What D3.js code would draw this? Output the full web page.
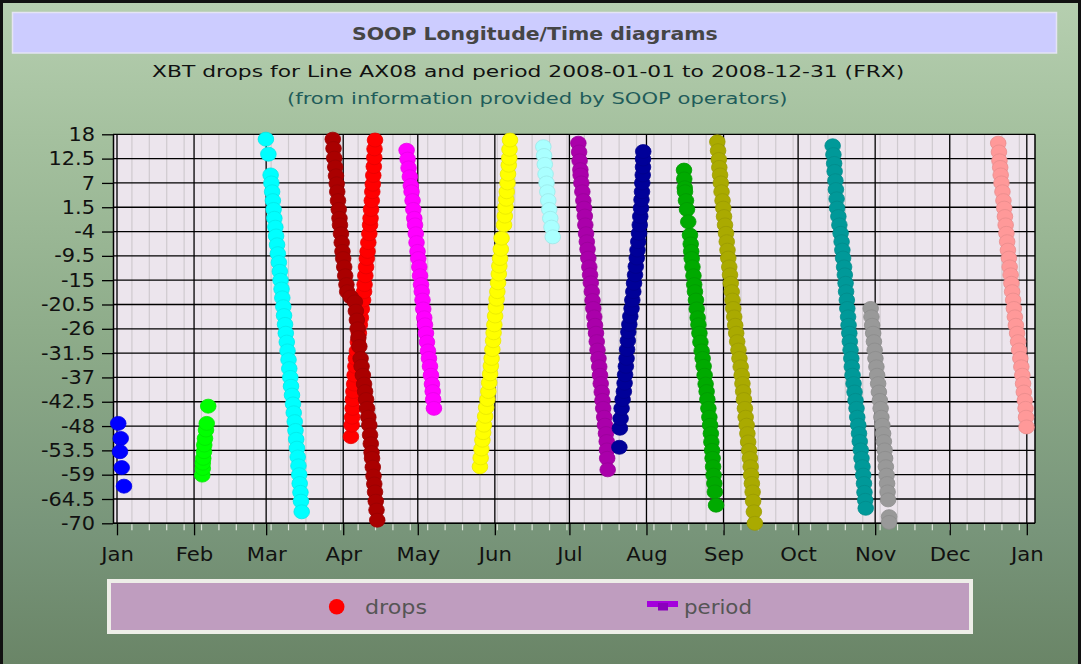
<!DOCTYPE html>
<html><head><meta charset="utf-8">
<script src="https://cdn.jsdelivr.net/npm/d3@7"></script>
<style>html,body{margin:0;padding:0;background:#fff;} svg{display:block;font-family:"DejaVu Sans",sans-serif;}</style>
</head><body><svg id="c" width="1081" height="664"></svg>
<script>
const titleText = "SOOP Longitude/Time diagrams";
const subtitleText = "XBT drops for Line AX08 and period 2008-01-01 to 2008-12-31 (FRX)";
const sourceText = "(from information provided by SOOP operators)";
const monthLabels = ["Jan","Feb","Mar","Apr","May","Jun","Jul","Aug","Sep","Oct","Nov","Dec","Jan"];
const lonTicks = [18,12.5,7,1.5,-4,-9.5,-15,-20.5,-26,-31.5,-37,-42.5,-48,-53.5,-59,-64.5,-70];
const lonTickLabels = ["18","12.5","7","1.5","-4","-9.5","-15","-20.5","-26","-31.5","-37","-42.5","-48","-53.5","-59","-64.5","-70"];
const legendLabels = ["drops","period"];

// each cruise: [days since 2008-01-01 00:00 UTC, longitude]
const cruiseBlue = [[0.5,-47.4],[1.5,-50.8],[1.2,-53.8],[1.9,-57.4],[2.8,-61.6]];
const cruiseGreen = [[34.3,-59.1],[34.5,-57.6],[34.5,-56.4],[34.7,-55.3],[35.0,-53.8],[35.1,-52.3],[35.4,-50.8],[35.8,-48.9],[36.1,-47.4],[36.7,-43.5]];
const cruiseCyan = [[59.9,16.9],[60.9,13.5],[61.8,8.8],[62.1,7],[62.4,5],[62.7,3],[63.0,1],[63.3,-1],[63.7,-3],[64.0,-5],[64.4,-7],[64.7,-9],[65.1,-11],[65.5,-13],[65.8,-15],[66.2,-17],[66.5,-19],[66.9,-21],[67.2,-23],[67.6,-25],[67.9,-27],[68.3,-29],[68.6,-31],[69.0,-33],[69.3,-35],[69.7,-37],[70.0,-39],[70.4,-41],[70.8,-43],[71.1,-45],[71.5,-47],[71.8,-49],[72.1,-51],[72.4,-53],[72.7,-55],[73.0,-57],[73.3,-59],[73.5,-61],[73.8,-63],[74.0,-65],[74.3,-67.4]];
const cruiseRed = [[94.1,-50.4],[94.4,-47.8],[94.6,-46],[94.8,-44],[94.9,-42],[95.1,-40.2],[95.4,-38.5],[95.6,-36.5],[95.9,-34.5],[96.1,-32.7],[96.5,-31],[96.9,-29],[97.3,-27],[97.7,-25.1],[98.1,-23.5],[98.5,-21.5],[99.0,-19.5],[99.4,-17.6],[99.6,-16],[99.9,-14],[100.2,-12],[100.5,-10.1],[100.8,-8.5],[101.1,-6.5],[101.5,-4.5],[101.8,-2.5],[102.0,-1.0],[102.2,1.0],[102.5,3.0],[102.7,5.0],[102.9,6.7],[103.1,8.7],[103.3,10.7],[103.5,12.7],[103.6,14.7],[103.8,16.7]];
const cruiseDarkRed = [[86.8,16.9],[87.1,14.8],[87.4,12.6],[87.8,10.6],[88.1,8.6],[88.4,6.8],[88.6,5.0],[88.9,3.0],[89.2,1.0],[89.5,-1.0],[89.7,-2.5],[90.1,-4.5],[90.4,-6.5],[90.7,-8.5],[91.0,-10.1],[91.4,-12],[91.8,-14],[92.3,-16],[92.6,-17.6],[94.0,-18.8],[95.7,-19.9],[96.1,-22],[96.5,-24],[96.8,-26],[97.1,-28],[97.5,-30],[98.0,-32.7],[98.4,-34.5],[98.9,-36.5],[99.4,-38.5],[99.8,-40.2],[100.2,-42],[100.6,-44],[101.1,-46],[101.5,-47.8],[101.8,-50],[102.1,-52],[102.4,-54],[102.6,-55.3],[102.9,-57.3],[103.2,-59.3],[103.5,-61.1],[103.8,-62.9],[104.1,-65],[104.4,-67],[104.7,-69.3]];
const cruiseMagenta = [[116.5,14.4],[116.9,12.4],[117.3,10.4],[117.8,8.4],[118.2,6.4],[118.5,5.0],[118.9,3],[119.2,1],[119.6,-1],[119.9,-2.5],[120.2,-4.5],[120.5,-6.5],[120.9,-8.5],[121.2,-10.1],[121.6,-12],[121.9,-14],[122.3,-16],[122.6,-17.6],[122.9,-19.5],[123.2,-21.5],[123.6,-23.5],[123.9,-25.1],[124.3,-27],[124.7,-29],[125.1,-31],[125.5,-32.7],[125.9,-34.5],[126.3,-36.5],[126.7,-38.5],[127.0,-40.2],[127.2,-42],[127.5,-44]];
const cruiseYellow = [[146.0,-57.2],[146.3,-55.2],[146.6,-53.2],[147.0,-51.2],[147.3,-49.5],[147.6,-47.8],[148.1,-45.8],[148.5,-43.8],[149.0,-42],[149.4,-40.2],[149.7,-38.2],[150.1,-36.2],[150.4,-34.4],[150.7,-32.7],[151.0,-30.7],[151.3,-28.7],[151.5,-26.9],[151.8,-25.1],[152.1,-23.1],[152.4,-21.1],[152.7,-19.3],[153.0,-17.6],[153.3,-15.6],[153.6,-13.6],[153.8,-11.8],[154.1,-10.1],[154.4,-8],[154.7,-5.5],[155.7,-2.5],[156.0,-0.5],[156.3,1.5],[156.6,3.3],[156.8,5.0],[157.1,7],[157.3,9],[157.6,11],[157.8,12.6],[157.9,14.6],[158.1,16.7]];
const cruiseLightCyan = [[171.5,15.2],[171.8,13.2],[172.1,11.2],[172.4,9],[172.8,7],[173.1,5],[173.5,3],[173.9,1],[174.3,-1],[174.8,-3],[175.3,-5.2]];
const cruisePurple = [[185.6,16],[185.9,14],[186.1,12],[186.4,10],[186.5,8.8],[186.8,7],[187.2,5],[187.6,3],[187.9,1.3],[188.2,-0.5],[188.4,-2.5],[188.7,-4.5],[189.0,-6.3],[189.3,-8],[189.6,-10],[190.0,-12],[190.3,-13.8],[190.6,-15.6],[191.0,-17.6],[191.3,-19.6],[191.6,-21.4],[192.0,-23.3],[192.3,-25.2],[192.7,-27],[193.0,-28.9],[193.3,-30.8],[193.7,-32.7],[194.0,-34.6],[194.3,-36.5],[194.6,-38.4],[195.0,-40.3],[195.3,-42.2],[195.6,-44],[196.0,-46],[196.3,-47.8],[196.7,-49.7],[197.0,-51.5],[197.1,-53.4],[197.2,-55.3],[197.4,-57.9]];
const cruiseNavy = [[202.1,-52.8],[202.3,-48.5],[202.6,-46.3],[203.0,-44.0],[203.4,-42],[203.9,-40.2],[204.2,-38.3],[204.4,-36.4],[204.7,-34.5],[205.0,-32.7],[205.2,-30.7],[205.5,-28.7],[205.7,-26.7],[206.1,-25],[206.5,-23.2],[207.0,-21.4],[207.3,-19.5],[207.7,-17.6],[208.0,-15.7],[208.4,-13.8],[208.7,-11.9],[209.1,-10],[209.4,-8.2],[209.7,-6.3],[210.0,-4.4],[210.3,-2.5],[210.5,-0.6],[210.8,1.3],[211.0,3.2],[211.2,5],[211.3,7],[211.5,8.8],[211.6,10.6],[211.6,12.4],[211.7,14.1]];
const cruiseGreen2 = [[228.1,9.9],[228.2,7.9],[228.4,5.9],[228.5,5],[228.9,3],[229.3,1],[229.8,-1.8],[230.5,-4.8],[230.8,-6.8],[231.0,-8.5],[231.2,-10.1],[231.5,-12],[231.9,-14],[232.2,-16],[232.5,-17.6],[232.9,-19.5],[233.2,-21.5],[233.6,-23.5],[233.9,-25.1],[234.3,-27],[234.7,-29],[235.2,-31],[235.6,-32.7],[236.0,-34.5],[236.4,-36.5],[236.8,-38.5],[237.2,-40.2],[237.5,-42],[237.9,-44],[238.3,-46],[238.6,-47.8],[238.9,-49.7],[239.1,-51.6],[239.4,-53.5],[239.6,-55.3],[239.8,-57.2],[240.0,-59.1],[240.3,-61],[240.5,-62.9],[241.0,-65.9]];
const cruiseOlive = [[241.5,16.3],[241.8,14.3],[242.1,12.3],[242.3,10.5],[242.6,8.8],[242.9,7],[243.2,5],[243.6,3],[243.9,1.3],[244.2,-0.6],[244.6,-2.5],[245.0,-4.4],[245.3,-6.3],[245.6,-8.2],[245.9,-10],[246.3,-12],[246.6,-13.8],[246.9,-15.7],[247.3,-17.6],[247.6,-19.5],[247.9,-21.4],[248.3,-23.3],[248.7,-25.2],[249.1,-27],[249.5,-28.9],[250.0,-30.8],[250.4,-32.7],[250.9,-34.6],[251.3,-36.5],[251.6,-38.4],[251.9,-40.2],[252.2,-42],[252.6,-44],[252.9,-46],[253.3,-47.8],[253.6,-49.7],[253.9,-51.6],[254.3,-53.5],[254.6,-55.3],[254.9,-57.2],[255.1,-59.1],[255.4,-61],[255.7,-62.9],[255.9,-65],[256.2,-67.4],[256.6,-70]];
const cruiseTeal = [[287.9,15.4],[288.2,13.4],[288.5,11.4],[288.7,9.6],[289.0,7.5],[289.2,5.5],[289.5,3.4],[289.7,1.3],[290.2,-0.6],[290.6,-2.5],[291.1,-4.4],[291.5,-6.3],[291.8,-8.2],[292.1,-10],[292.5,-12],[292.8,-13.8],[293.1,-15.7],[293.3,-17.6],[293.6,-19.5],[293.8,-21.4],[294.1,-23.3],[294.3,-25.2],[294.6,-27],[294.8,-28.9],[295.1,-30.8],[295.4,-32.7],[295.6,-34.6],[295.9,-36.5],[296.3,-38.4],[296.7,-40.3],[297.1,-42.2],[297.5,-44],[297.8,-46],[298.2,-47.8],[298.5,-49.7],[298.8,-51.5],[299.2,-53.4],[299.5,-55.3],[299.9,-57.2],[300.2,-59.1],[300.5,-61],[300.7,-63],[301.0,-64.8],[301.2,-66.6]];
const cruiseGray = [[303.2,-21.4],[303.5,-23.3],[303.8,-25.2],[304.2,-27],[304.5,-28.9],[304.8,-30.8],[305.1,-32.7],[305.5,-34.6],[305.8,-36.5],[306.2,-38.4],[306.5,-40.3],[306.9,-42.2],[307.2,-44],[307.5,-46],[307.9,-47.8],[308.2,-49.7],[308.5,-51.5],[308.8,-53.4],[309.0,-55.3],[309.3,-57.2],[309.6,-59.1],[309.8,-61],[310.0,-62.9],[310.2,-64.7],[310.6,-68.5],[310.6,-69.8]];
const cruisePink = [[354.5,16],[354.8,14],[355.0,12],[355.3,10.5],[355.5,8.8],[355.8,7],[356.2,5],[356.6,3],[356.9,1.3],[357.2,-0.6],[357.5,-2.5],[357.8,-4.4],[358.1,-6.3],[358.4,-8.2],[358.8,-10],[359.1,-12],[359.5,-13.8],[359.8,-15.7],[360.1,-17.6],[360.5,-19.5],[360.8,-21.4],[361.2,-23.3],[361.6,-25.2],[362.1,-27],[362.5,-28.9],[362.9,-30.8],[363.4,-32.7],[363.8,-34.6],[364.2,-36.5],[364.5,-38.4],[364.8,-40.3],[365.2,-42.2],[365.5,-44],[365.7,-46],[365.9,-48.2]];

const cruises = [cruiseBlue, cruiseGreen, cruiseCyan, cruiseRed, cruiseDarkRed, cruiseMagenta, cruiseYellow, cruiseLightCyan, cruisePurple, cruiseNavy, cruiseGreen2, cruiseOlive, cruiseTeal, cruiseGray, cruisePink];
const cruiseColors = ["#0000ff","#00ff00","#00ffff","#ff0000","#aa0000","#ff00ff","#ffff00","#aaffff","#aa00aa","#000099","#00aa00","#aaaa00","#009999","#999999","#ff9999"];

// ---------- layout ----------
const W = 1081, H = 664;
const plot = {left: 113, right: 1035, top: 134.3, bottom: 523.3};
const t0 = Date.UTC(2008,0,1), t1 = Date.UTC(2009,0,1);
const dayDate = d => new Date(t0 + d*864e5);

const svg = d3.select("#c");
const defs = svg.append("defs");
const grad = defs.append("linearGradient").attr("id","bg").attr("x1",0).attr("y1",0).attr("x2",0).attr("y2",1);
[[0,"#b6cfb0"],[0.2,"#a5c19f"],[0.5,"#8eac8a"],[0.8,"#78957a"],[1,"#6a8567"]].forEach(([o,c])=>grad.append("stop").attr("offset",o).attr("stop-color",c));

svg.append("rect").attr("width",W).attr("height",H).attr("fill","url(#bg)");
svg.append("path").attr("d",`M1.5,${H} V1.5 H${W-1.5} V${H}`).attr("fill","none").attr("stroke","#111").attr("stroke-width",3);

// title box
svg.append("rect").attr("x",12.5).attr("y",12.5).attr("width",1044).attr("height",40.5)
  .attr("fill","#ccccff").attr("stroke","#e4e4f4").attr("stroke-width",1.5);

function fitWidth(sel, target){
  const w = sel.node().getComputedTextLength();
  const k = target / w;
  const x = +sel.attr("x")||0, y = +sel.attr("y")||0;
  sel.attr("transform",`translate(${x},${y}) scale(${k},1) translate(${-x},${-y})`);
}
function stretch(sel, k){
  sel.each(function(){
    const s = d3.select(this);
    const x = +s.attr("x")||0, y = +s.attr("y")||0;
    s.attr("transform",`translate(${x},${y}) scale(${k},1) translate(${-x},${-y})`);
  });
}

const tt = svg.append("text").attr("x",352).attr("y",40.5).attr("font-size",18).attr("font-weight","bold")
  .attr("fill","#454545").text(titleText);
fitWidth(tt, 366);
const st = svg.append("text").attr("x",152).attr("y",77).attr("font-size",16).attr("fill","#111").text(subtitleText);
fitWidth(st, 753);
const so = svg.append("text").attr("x",287).attr("y",104).attr("font-size",16).attr("fill","#1f5c5a").text(sourceText);
fitWidth(so, 501);

// scales
const x = d3.scaleUtc().domain([t0,t1]).range([117, 1026.8]);
const y = d3.scaleLinear().domain([18,-70]).range([plot.top, plot.bottom]);

svg.append("rect").attr("x",plot.left).attr("y",plot.top).attr("width",plot.right-plot.left).attr("height",plot.bottom-plot.top).attr("fill","#ece5ed");

const weeks = d3.utcMonday.range(new Date(t0), new Date(Date.UTC(2009,0,4)));
svg.append("g").selectAll("line").data(weeks).join("line")
  .attr("x1",d=>x(d)).attr("x2",d=>x(d)).attr("y1",plot.top).attr("y2",plot.bottom)
  .attr("stroke","#cfcacf").attr("stroke-width",1.2);
svg.append("g").selectAll("line").data(weeks).join("line")
  .attr("x1",d=>x(d)).attr("x2",d=>x(d)).attr("y1",plot.bottom+1).attr("y2",plot.bottom+7)
  .attr("stroke","#dfe6dc").attr("stroke-width",1.2);

svg.append("g").selectAll("line").data(lonTicks).join("line")
  .attr("x1",plot.left).attr("x2",plot.right).attr("y1",d=>y(d)).attr("y2",d=>y(d))
  .attr("stroke","#000").attr("stroke-width",1.3);
const months = d3.utcMonth.range(new Date(t0), new Date(Date.UTC(2009,0,2)));
svg.append("g").selectAll("line").data(months).join("line")
  .attr("x1",d=>x(d)).attr("x2",d=>x(d)).attr("y1",plot.top).attr("y2",plot.bottom)
  .attr("stroke","#000").attr("stroke-width",1.3);
svg.append("line").attr("x1",plot.right).attr("x2",plot.right).attr("y1",plot.top).attr("y2",plot.bottom).attr("stroke","#000").attr("stroke-width",1.5);
svg.append("line").attr("x1",plot.left).attr("x2",plot.right).attr("y1",plot.bottom).attr("y2",plot.bottom).attr("stroke","#000").attr("stroke-width",1.5);

const yAxis = d3.axisLeft(y).tickValues(lonTicks).tickFormat((d,i)=>lonTickLabels[i]).tickSize(11).tickPadding(7).tickSizeOuter(0);
const gy = svg.append("g").attr("transform",`translate(${plot.left},0)`).call(yAxis);
gy.select(".domain").attr("stroke","#000").attr("stroke-width",1.5);
gy.selectAll(".tick line").attr("stroke","#000").attr("stroke-width",1.3);
gy.selectAll("text").attr("font-size",19).attr("font-family","DejaVu Sans").attr("fill","#111");
stretch(gy.selectAll("text"), 1.1);

const xAxis = d3.axisBottom(x).tickValues(months).tickFormat((d,i)=>monthLabels[i]).tickSize(12).tickPadding(12).tickSizeOuter(0);
const gx = svg.append("g").attr("transform",`translate(0,${plot.bottom})`).call(xAxis);
gx.select(".domain").remove();
gx.selectAll(".tick line").attr("stroke","#000").attr("stroke-width",1.3);
gx.selectAll("text").attr("font-size",20).attr("font-family","DejaVu Sans").attr("fill","#111");
stretch(gx.selectAll("text"), 1.06);

// drops
const gd = svg.append("g");
cruises.forEach((pts,i)=>{
  const c = cruiseColors[i];
  gd.append("g").selectAll("ellipse").data(pts).join("ellipse")
    .attr("cx",d=>x(dayDate(d[0]))).attr("cy",d=>y(d[1])).attr("rx",7.8).attr("ry",7)
    .attr("fill",c).attr("stroke",d3.color(c).darker(0.25)).attr("stroke-width",0.8);
});

// legend
svg.append("rect").attr("x",109).attr("y",581).attr("width",862).attr("height",51)
  .attr("fill","#bf9dbf").attr("stroke","#eeeee8").attr("stroke-width",4);
svg.append("circle").attr("cx",336.7).attr("cy",606.7).attr("r",7.8).attr("fill","#ff0000");
const l1 = svg.append("text").attr("x",365).attr("y",614.5).attr("font-size",20).attr("fill","#555").text(legendLabels[0]);
fitWidth(l1, 62);
svg.append("rect").attr("x",647).attr("y",601).attr("width",31).attr("height",6).attr("fill","#a400dc");
svg.append("rect").attr("x",658).attr("y",603).attr("width",10).attr("height",7.5).attr("fill","#8a00bc");
const l2 = svg.append("text").attr("x",684).attr("y",614.5).attr("font-size",20).attr("fill","#555").text(legendLabels[1]);
fitWidth(l2, 68);
</script></body></html>
